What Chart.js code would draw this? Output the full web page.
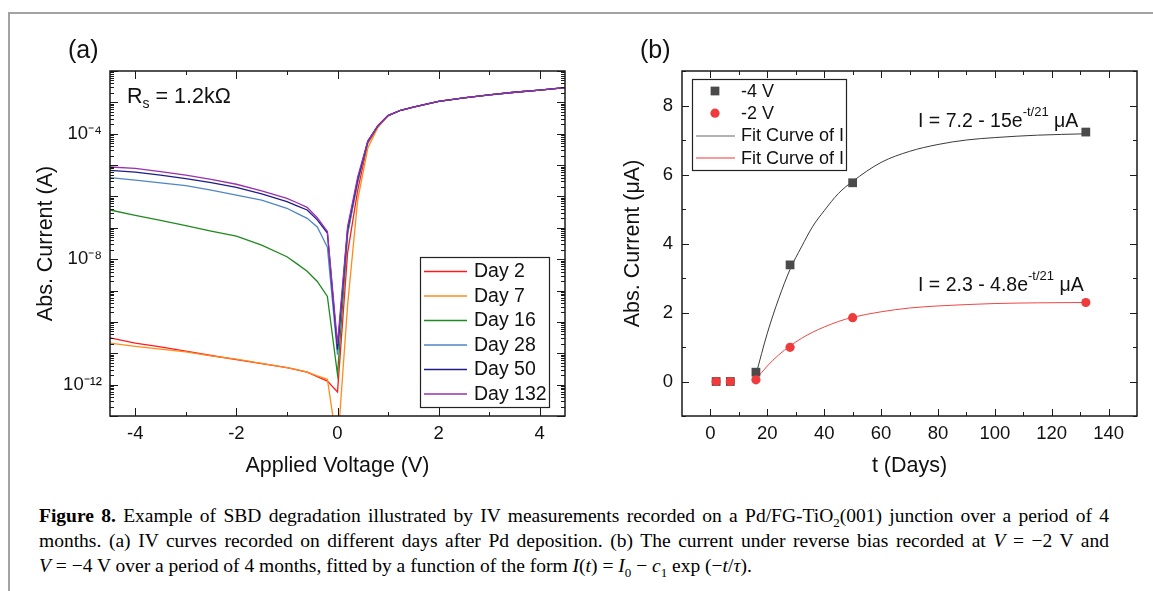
<!DOCTYPE html>
<html>
<head>
<meta charset="utf-8">
<script src="https://cdn.jsdelivr.net/npm/chart.js@4.4.1/dist/chart.umd.min.js"></script>
<style>
html, body { margin: 0; padding: 0; background: #fff; }
body { width: 1153px; height: 591px; position: relative; overflow: hidden; font-family: "Liberation Sans", Arial, sans-serif; color: #111; }
#frame { position: absolute; left: 8px; top: 12px; width: 1200px; height: 700px; border-top: 2px solid #a3a3a3; border-left: 2px solid #a3a3a3; }
canvas { position: absolute; top: 0; }
#chartA { left: 0; }
#chartB { left: 580px; }
.ann { position: absolute; white-space: nowrap; line-height: 1; }
.panel { font-size: 25px; }
.eq { font-size: 19.5px; }
.eq sup { font-size: 13px; position: relative; top: -3px; }
#rs { left: 127px; top: 86px; font-size: 21.5px; }
#rs sub { font-size: 14px; }
#caption { position: absolute; left: 39px; top: 503px; width: 1070px; font-family: "Liberation Serif", "Times New Roman", serif; font-size: 19.5px; line-height: 25px; color: #000; }
#caption .ln { text-align: justify; text-align-last: justify; white-space: nowrap; }
#caption .last { text-align: left; text-align-last: left; }
#caption i { font-style: italic; }
#caption sub { font-size: 13px; line-height: 0; }
</style>
</head>
<body>
<div id="frame"></div>
<canvas id="chartA" width="580" height="500"></canvas>
<canvas id="chartB" width="573" height="500"></canvas>

<div class="ann panel" style="left:68px; top:37px;">(a)</div>
<div class="ann panel" style="left:640px; top:37px;">(b)</div>
<div class="ann" id="rs">R<sub>s</sub> = 1.2kΩ</div>
<div class="ann eq" style="left:918px; top:108px;">I = 7.2 - 15e<sup>-t/21</sup> μA</div>
<div class="ann eq" style="left:918px; top:272px;">I = 2.3 - 4.8e<sup>-t/21</sup> μA</div>

<div id="caption">
  <div class="ln"><b>Figure 8.</b> Example of SBD degradation illustrated by IV measurements recorded on a Pd/FG-TiO<sub>2</sub>(001) junction over a period of 4</div>
  <div class="ln">months. (a) IV curves recorded on different days after Pd deposition. (b) The current under reverse bias recorded at <i>V</i> = −2 V and</div>
  <div class="ln last"><i>V</i> = −4 V over a period of 4 months, fitted by a function of the form <i>I</i>(<i>t</i>) = <i>I</i><sub>0</sub> − <i>c</i><sub>1</sub> exp (−<i>t</i>/<i>τ</i>).</div>
</div>

<script>
// ---- panel (a): IV curves, |I| in A vs applied voltage ----
const voltage = [-4.5, -4, -3.5, -3, -2.5, -2, -1.5, -1, -0.8, -0.6, -0.4, -0.2, 0,
                 0.2, 0.4, 0.6, 0.8, 1, 1.25, 1.5, 2, 2.5, 3, 3.5, 4, 4.5];

const dayLabels = ['Day 2', 'Day 7', 'Day 16', 'Day 28', 'Day 50', 'Day 132'];

const day2 = [3.1e-11, 2.1e-11, 1.6e-11, 1.17e-11, 8.5e-12, 6.3e-12, 4.7e-12, 3.5e-12, 2.95e-12, 2.5e-12, 1.8e-12, 1.3e-12, 5.8e-13,
              1.6e-8, 1.6e-6, 5.0e-5, 1.66e-4, 3.8e-4, 5.6e-4, 7.1e-4, 1.07e-3, 1.38e-3, 1.74e-3, 2.1e-3, 2.45e-3, 2.95e-3];
const day7 = [2.1e-11, 1.66e-11, 1.35e-11, 1.1e-11, 8.3e-12, 6.5e-12, 4.8e-12, 3.5e-12, 3.0e-12, 2.5e-12, 1.9e-12, 1.48e-12, 1e-14,
              3.5e-10, 7.9e-7, 3.5e-5, 1.6e-4, 3.8e-4, 5.6e-4, 7.1e-4, 1.07e-3, 1.38e-3, 1.74e-3, 2.1e-3, 2.45e-3, 2.95e-3];
const day16 = [3.7e-7, 2.5e-7, 1.74e-7, 1.17e-7, 7.9e-8, 5.4e-8, 2.8e-8, 1.2e-8, 7.1e-9, 4.1e-9, 1.95e-9, 6.5e-10, 2.1e-12,
               6.3e-8, 3.2e-6, 5.6e-5, 1.8e-4, 3.8e-4, 5.6e-4, 7.1e-4, 1.07e-3, 1.38e-3, 1.74e-3, 2.1e-3, 2.45e-3, 2.95e-3];
const day28 = [4.0e-6, 3.3e-6, 2.7e-6, 2.2e-6, 1.6e-6, 1.1e-6, 7.6e-7, 4.2e-7, 2.9e-7, 2.0e-7, 1.07e-7, 2.4e-8, 9e-12,
               7e-8, 2.8e-6, 5.5e-5, 1.8e-4, 3.8e-4, 5.6e-4, 7.1e-4, 1.07e-3, 1.38e-3, 1.74e-3, 2.1e-3, 2.45e-3, 2.95e-3];
const day50 = [6.8e-6, 6.0e-6, 4.8e-6, 3.7e-6, 2.75e-6, 1.95e-6, 1.2e-6, 6.8e-7, 5.0e-7, 3.7e-7, 1.8e-7, 6.8e-8, 1.3e-11,
               9e-8, 3.5e-6, 5.8e-5, 1.8e-4, 3.8e-4, 5.6e-4, 7.1e-4, 1.07e-3, 1.38e-3, 1.74e-3, 2.1e-3, 2.45e-3, 2.95e-3];
const day132 = [8.7e-6, 7.8e-6, 6.2e-6, 4.8e-6, 3.5e-6, 2.45e-6, 1.5e-6, 8.7e-7, 6.3e-7, 4.5e-7, 2.1e-7, 7.6e-8, 2.0e-11,
                1.1e-7, 4.2e-6, 6.0e-5, 1.8e-4, 3.8e-4, 5.6e-4, 7.1e-4, 1.07e-3, 1.38e-3, 1.74e-3, 2.1e-3, 2.45e-3, 2.95e-3];

const voltTickLabels = [-4, -2, 0, 2, 4];
const currentLabelExps = [-4, -8, -12];

// ---- panel (b): reverse current vs time ----
const days = [2, 7, 16, 28, 50, 132];
const at4V = [0, 0, 0.27, 3.38, 5.76, 7.23];
const at2V = [0, 0, 0.05, 0.99, 1.85, 2.29];

const fitDays = [16, 20, 24, 28, 32, 36, 40, 45, 50, 60, 70, 80, 90, 100, 115, 132];
const fit4V = [0.2, 1.4, 2.4, 3.25, 3.9, 4.5, 4.95, 5.45, 5.8, 6.35, 6.67, 6.87, 7.0, 7.07, 7.14, 7.18];
const fit2V = [0.06, 0.45, 0.77, 1.03, 1.25, 1.43, 1.58, 1.74, 1.86, 2.02, 2.13, 2.19, 2.23, 2.26, 2.28, 2.29];

const dayTickLabels = [0, 20, 40, 60, 80, 100, 120, 140];
const currentTickLabels = [0, 2, 4, 6, 8];

const dayColors = ['#ff1a1a', '#ff8c1a', '#1f8a1f', '#4f86c6', '#1c1c8a', '#9b2fae'];

Chart.defaults.font.family = '"Liberation Sans", Arial, sans-serif';
Chart.defaults.color = '#111';

const sup = { '-': '\u207B', '0': '\u2070', '1': '\u00B9', '2': '\u00B2', '3': '\u00B3', '4': '\u2074',
              '5': '\u2075', '6': '\u2076', '7': '\u2077', '8': '\u2078', '9': '\u2079' };
const toSup = s => String(s).split('').map(c => sup[c]).join('');

// box round the plot with inward ticks on all four sides
const frameTicks = {
  id: 'frameTicks',
  afterDatasetsDraw(chart, args, o) {
    const { ctx, chartArea: a } = chart;
    const x = chart.scales.x, y = chart.scales.y;
    ctx.save();
    ctx.strokeStyle = '#1a1a1a';
    ctx.lineWidth = 1;
    ctx.beginPath();
    x.ticks.forEach(t => {
      const px = Math.round(x.getPixelForValue(t.value)) + 0.5;
      const len = t.major ? o.major : o.minor;
      ctx.moveTo(px, a.bottom); ctx.lineTo(px, a.bottom - len);
      ctx.moveTo(px, a.top); ctx.lineTo(px, a.top + len);
    });
    y.ticks.forEach(t => {
      const py = Math.round(y.getPixelForValue(t.value)) + 0.5;
      const len = t.major ? o.major : o.minor;
      ctx.moveTo(a.left, py); ctx.lineTo(a.left + len, py);
      ctx.moveTo(a.right, py); ctx.lineTo(a.right - len, py);
    });
    ctx.stroke();
    ctx.lineWidth = 1.5;
    ctx.strokeRect(a.left, a.top, a.right - a.left, a.bottom - a.top);
    ctx.restore();
  }
};

// framed legend inside the plot
const boxLegend = {
  id: 'boxLegend',
  afterDraw(chart, args, o) {
    const ctx = chart.ctx;
    ctx.save();
    ctx.fillStyle = '#fff';
    ctx.fillRect(o.x, o.y, o.w, o.h);
    ctx.strokeStyle = '#222';
    ctx.lineWidth = 1.2;
    ctx.strokeRect(o.x + 0.5, o.y + 0.5, o.w, o.h);
    ctx.font = o.font;
    ctx.textBaseline = 'middle';
    chart.data.datasets.forEach((d, i) => {
      const cy = o.y + o.first + i * o.step;
      if (d.showLine === false) {
        ctx.fillStyle = d.backgroundColor;
        ctx.beginPath();
        if (d.pointStyle === 'rect') {
          const s = d.pointRadius * Math.SQRT1_2;
          ctx.rect(o.markX - s, cy - s, 2 * s, 2 * s);
        } else {
          ctx.arc(o.markX, cy, d.pointRadius, 0, Math.PI * 2);
        }
        ctx.fill();
      } else {
        ctx.strokeStyle = o.sampleColors ? o.sampleColors[i] : d.borderColor;
        ctx.lineWidth = o.sampleWidth;
        ctx.beginPath();
        ctx.moveTo(o.lineX0, cy + 0.5);
        ctx.lineTo(o.lineX1, cy + 0.5);
        ctx.stroke();
      }
      ctx.fillStyle = '#111';
      ctx.fillText(d.label, o.textX, cy + 1);
    });
    ctx.restore();
  }
};

new Chart(document.getElementById('chartA'), {
  type: 'line',
  data: {
    datasets: [day2, day7, day16, day28, day50, day132].map((vals, i) => ({
      label: dayLabels[i],
      data: voltage.map((v, k) => ({ x: v, y: vals[k] })),
      borderColor: dayColors[i],
      borderWidth: 1.3,
      pointRadius: 0,
      tension: 0,
      order: dayLabels.length - i
    }))
  },
  options: {
    responsive: false,
    animation: false,
    layout: { padding: { left: 0, right: 15, top: 71, bottom: 0 } },
    plugins: {
      legend: { display: false },
      tooltip: { enabled: false },
      frameTicks: { major: 8, minor: 4 },
      boxLegend: { x: 420, y: 257, w: 129, h: 150, first: 14, step: 24.5,
                   lineX0: 424, lineX1: 467, textX: 474, sampleWidth: 1.5, font: '19.5px "Liberation Sans", Arial, sans-serif' }
    },
    scales: {
      x: {
        type: 'linear', min: -4.5, max: 4.5,
        grid: { display: false, drawTicks: false },
        border: { display: false },
        afterBuildTicks: ax => {
          const t = [];
          for (let v = -4; v <= 4; v++) t.push({ value: v, major: v % 2 === 0 });
          ax.ticks = t;
        },
        afterFit: ax => { ax.height = 84; },
        ticks: {
          autoSkip: false, maxRotation: 0, minRotation: 0, padding: 7,
          font: { size: 18.5 },
          callback: v => voltTickLabels.includes(v) ? String(v) : ''
        },
        title: { display: true, text: 'Applied Voltage (V)', font: { size: 21.5 }, padding: { top: 0, bottom: 21 } }
      },
      y: {
        type: 'logarithmic', min: 1e-13, max: 1e-2,
        grid: { display: false, drawTicks: false },
        border: { display: false },
        afterBuildTicks: ax => {
          const t = [];
          for (let e = -13; e <= -2; e++) {
            for (let m = 1; m <= 9; m++) {
              if (e === -2 && m > 1) break;
              t.push({ value: m * Math.pow(10, e), major: m === 1 });
            }
          }
          ax.ticks = t;
        },
        afterFit: ax => { ax.width = 110; },
        ticks: {
          autoSkip: false, padding: 8,
          font: { size: 18.5 },
          callback: (v, i, ticks) => {
            const e = Math.round(Math.log10(v));
            return ticks[i].major && currentLabelExps.includes(e) ? '10' + toSup(e) : '';
          }
        },
        title: { display: true, text: 'Abs. Current (A)', font: { size: 21.5 }, padding: { top: 33, bottom: 0 } }
      }
    }
  },
  plugins: [frameTicks, boxLegend]
});

new Chart(document.getElementById('chartB'), {
  type: 'line',
  data: {
    datasets: [
      { label: '-4 V', data: days.map((d, k) => ({ x: d, y: at4V[k] })), showLine: false,
        pointStyle: 'rect', pointRadius: 6.2, backgroundColor: '#4a4a4a', borderWidth: 0, order: 2 },
      { label: '-2 V', data: days.map((d, k) => ({ x: d, y: at2V[k] })), showLine: false,
        pointStyle: 'circle', pointRadius: 4.6, backgroundColor: '#ef3b3b', borderWidth: 0, order: 1 },
      { label: 'Fit Curve of I', data: fitDays.map((d, k) => ({ x: d, y: fit4V[k] })),
        borderColor: '#3a3a3a', borderWidth: 1, pointRadius: 0, cubicInterpolationMode: 'monotone', order: 3 },
      { label: 'Fit Curve of I', data: fitDays.map((d, k) => ({ x: d, y: fit2V[k] })),
        borderColor: '#f04444', borderWidth: 1, pointRadius: 0, cubicInterpolationMode: 'monotone', order: 4 }
    ]
  },
  options: {
    responsive: false,
    animation: false,
    layout: { padding: { left: 0, right: 16, top: 71, bottom: 0 } },
    plugins: {
      legend: { display: false },
      tooltip: { enabled: false },
      frameTicks: { major: 7, minor: 4 },
      boxLegend: { x: 112, y: 79, w: 154, h: 91, first: 12, step: 22.2, markX: 135, lineX0: 116, lineX1: 155,
                   textX: 161, sampleWidth: 1.5, sampleColors: [null, null, '#9a9a9a', '#f47a7a'],
                   font: '18px "Liberation Sans", Arial, sans-serif' }
    },
    scales: {
      x: {
        type: 'linear', min: -10, max: 150,
        grid: { display: false, drawTicks: false },
        border: { display: false },
        afterBuildTicks: ax => {
          const t = [];
          for (let v = 0; v <= 140; v += 10) t.push({ value: v, major: v % 20 === 0 });
          ax.ticks = t;
        },
        afterFit: ax => { ax.height = 84; },
        ticks: {
          autoSkip: false, maxRotation: 0, minRotation: 0, padding: 7,
          font: { size: 18.5 },
          callback: v => dayTickLabels.includes(v) ? String(v) : ''
        },
        title: { display: true, text: 't (Days)', font: { size: 21.5 }, padding: { top: 0, bottom: 21 } }
      },
      y: {
        type: 'linear', min: -1, max: 9,
        grid: { display: false, drawTicks: false },
        border: { display: false },
        afterBuildTicks: ax => {
          const t = [];
          for (let v = -1; v <= 9; v++) t.push({ value: v, major: v % 2 === 0 });
          ax.ticks = t;
        },
        afterFit: ax => { ax.width = 102; },
        ticks: {
          autoSkip: false, padding: 9,
          font: { size: 18.5 },
          callback: v => currentTickLabels.includes(v) ? String(v) : ''
        },
        title: { display: true, text: 'Abs. Current (μA)', font: { size: 21.5 }, padding: { top: 40, bottom: 0 } }
      }
    }
  },
  plugins: [frameTicks, boxLegend]
});
</script>
</body>
</html>
